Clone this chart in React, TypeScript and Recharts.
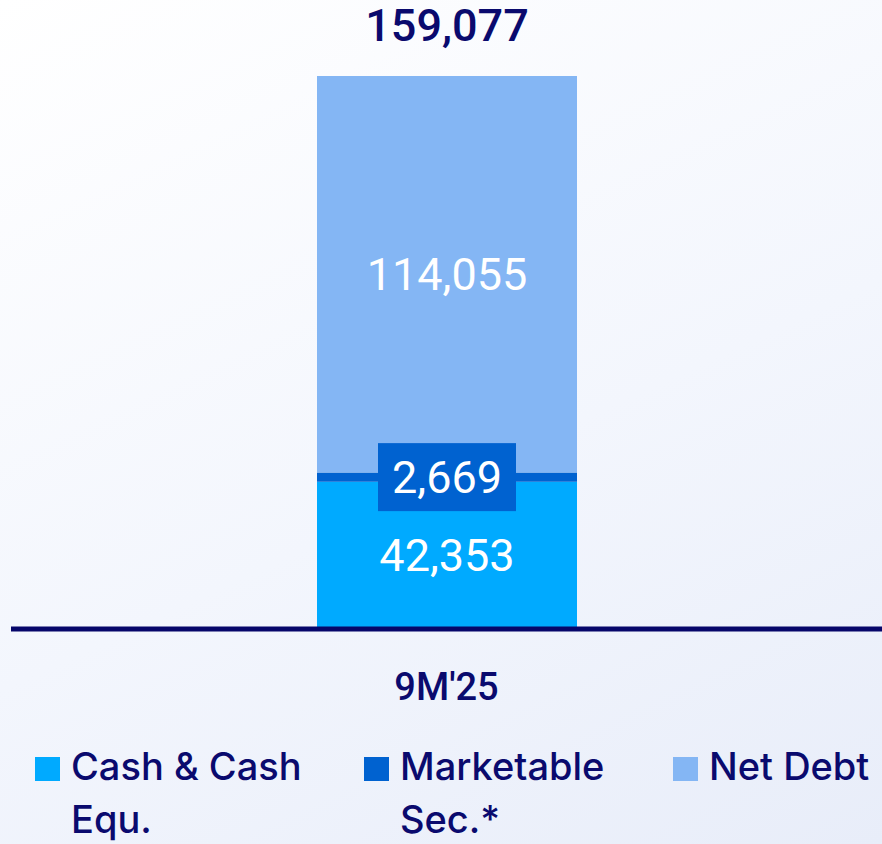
import { BarChart, Bar, XAxis, YAxis, Legend, LabelList } from 'recharts'

const periods = ["9M'25"]
const cashEqu = [42353]
const marketableSec = [2669]
const netDebt = [114055]

const NAVY = '#0a0a6e'
const series = [
  { key: 'cash', name: 'Cash & Cash Equ.', color: '#00aaff', width: 250 },
  { key: 'marketable', name: 'Marketable Sec.*', color: '#0062d0', width: 240 },
  { key: 'netDebt', name: 'Net Debt', color: '#84b6f4', width: 190 },
]

const data = periods.map((p, i) => ({
  period: p,
  cash: cashEqu[i],
  marketable: marketableSec[i],
  netDebt: netDebt[i],
  total: cashEqu[i] + marketableSec[i] + netDebt[i],
}))

const fmt = (v: number) => v.toLocaleString('en-US')
const numFont = 'Roboto, sans-serif'

function CenterLabel(props: any) {
  const { x, y, width, height, value } = props
  return (
    <text x={x + width / 2} y={y + height / 2} dy={16} textAnchor="middle" fill="#fff"
      fontFamily={numFont} fontSize={45} fontWeight={400}>
      {fmt(value)}
    </text>
  )
}

function BoxLabel(props: any) {
  const { x, y, width, height, value } = props
  const cx = x + width / 2
  const cy = y + height / 2
  return (
    <g>
      <rect x={cx - 69} y={cy - 34} width={138} height={68} fill="#0062d0" />
      <text x={cx} y={cy} dy={16} textAnchor="middle" fill="#fff"
        fontFamily={numFont} fontSize={45} fontWeight={400}>
        {fmt(value)}
      </text>
    </g>
  )
}

function TotalLabel(props: any) {
  const { x, y, width, index } = props
  return (
    <text x={x + width / 2} y={y - 35} textAnchor="middle" fill={NAVY}
      fontFamily={numFont} fontSize={45} fontWeight={500}>
      {fmt(data[index].total)}
    </text>
  )
}

function PeriodTick(props: any) {
  const { x, y, payload } = props
  return (
    <text x={x} y={y + 71} textAnchor="middle" fill={NAVY}
      fontFamily={numFont} fontSize={38} fontWeight={500}>
      {payload.value}
    </text>
  )
}

function LegendBox() {
  return (
    <div style={{ display: 'flex', height: 100, fontFamily: 'Inter, sans-serif', fontSize: 38, fontWeight: 500, color: NAVY, lineHeight: '53px' }}>
      {series.map((s, i) => (
        <div key={s.key} style={{ display: 'flex', position: 'absolute', left: [35, 364, 673][i], top: 0 }}>
          <div style={{ width: 25, height: 24, marginTop: 17, background: s.color, flexShrink: 0 }} />
          <div style={{ marginLeft: 11, width: s.width }}>{s.name}</div>
        </div>
      ))}
    </div>
  )
}

export default function App() {
  return (
    <div style={{ position: 'absolute', left: 0, top: 0, width: 882, height: 844, overflow: 'hidden',
      background: 'linear-gradient(155deg, #ffffff 0%, #f3f6fd 55%, #e8edf9 100%)' }}>
      <BarChart width={882} height={844} data={data} margin={{ top: 76, right: 0, left: 11, bottom: 4 }} barSize={260}>
        <YAxis hide domain={[0, 159077]} />
        <Bar dataKey="cash" name="Cash & Cash Equ." stackId="a" fill="#00aaff" isAnimationActive={false}>
          <LabelList dataKey="cash" content={CenterLabel} />
        </Bar>
        <Bar dataKey="marketable" name="Marketable Sec.*" stackId="a" fill="#0062d0" isAnimationActive={false}>
          <LabelList dataKey="marketable" content={BoxLabel} />
        </Bar>
        <Bar dataKey="netDebt" name="Net Debt" stackId="a" fill="#84b6f4" isAnimationActive={false}>
          <LabelList dataKey="netDebt" content={CenterLabel} />
          <LabelList dataKey="total" content={TotalLabel} />
        </Bar>
        <XAxis dataKey="period" height={111} tickLine={false} tickSize={0} tickMargin={0}
          axisLine={{ stroke: '#06066a', strokeWidth: 5 }} tick={PeriodTick} />
        <Legend verticalAlign="bottom" content={LegendBox} wrapperStyle={{ left: 0, width: 882, height: 100 }} />
      </BarChart>
    </div>
  )
}
